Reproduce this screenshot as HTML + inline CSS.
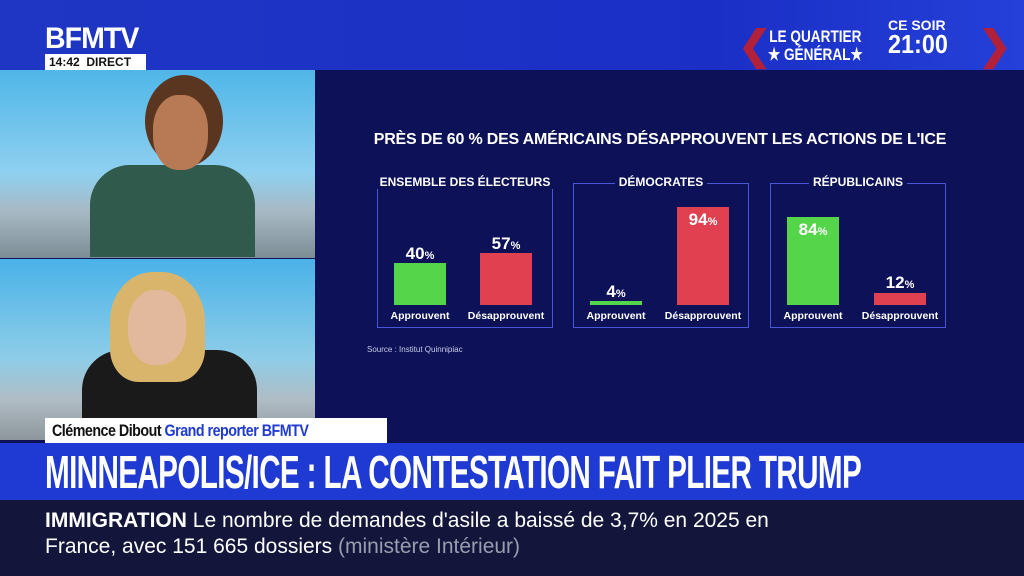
<!DOCTYPE html>
<html><head><meta charset="utf-8"><style>
*{margin:0;padding:0;box-sizing:border-box}
body{width:1024px;height:576px;overflow:hidden;position:relative;background:#0c1158;font-family:"Liberation Sans",sans-serif}
.a{position:absolute;white-space:nowrap}
.cond{font-weight:bold;transform-origin:left top}
.box{position:absolute;border:1.5px solid #4a56d8;top:183px;height:145px;width:176px}
.bt{position:absolute;top:-9px;left:-20px;right:-20px;text-align:center;color:#fff;font-weight:bold;font-size:12px;white-space:nowrap}
.bt span{background:#0c1158;padding:0 4px}
.bar{position:absolute;width:52px;bottom:22px}
.g{background:#55d64a}.r{background:#e0404f}
.v{position:absolute;width:52px;text-align:center;color:#fff;font-weight:bold;font-size:17px}
.v small{font-size:11px}
.lb{position:absolute;bottom:5px;color:#fff;font-weight:bold;font-size:10.5px;text-align:center;width:80px;white-space:nowrap}
</style></head><body>
<div class="a" style="left:0;top:0;width:1024px;height:70px;background:linear-gradient(90deg,#1f36c4,#1a2fc6 70%,#2440d8)"></div>
<div class="a cond" style="left:45px;top:24px;color:#fff;font-size:30px;letter-spacing:-1px;line-height:30px;transform:scaleX(0.95)">BFMTV</div>
<div class="a cond" style="left:45px;top:54px;width:101px;height:16px;background:#fff;color:#111;font-size:12px;line-height:16px;padding-left:4px">14:42 &nbsp;DIRECT</div>
<div class="a" style="left:738px;top:24px;color:#b2203a;font-size:40px;line-height:44px;font-weight:bold">❮</div>
<div class="a cond" style="left:768px;top:28px;color:#fff;font-size:17px;line-height:18px;text-align:center;transform:scaleX(0.8)">LE QUARTIER<br>★ GÉNÉRAL★</div>
<div class="a cond" style="left:888px;top:18px;color:#fff;font-size:14px;line-height:14px">CE SOIR</div>
<div class="a cond" style="left:888px;top:31px;color:#fff;font-size:26px;line-height:26px;transform:scaleX(0.9)">21:00</div>
<div class="a" style="left:978px;top:24px;color:#b2203a;font-size:40px;line-height:44px;font-weight:bold">❯</div>
<div class="a" style="left:0;top:70px;width:315px;height:188px;background:linear-gradient(180deg,#4fb6e8,#8fd0f0 55%,#a7b9c4 75%,#7d8d96)"></div>
<div class="a" style="left:90px;top:165px;width:165px;height:92px;background:#2f5a4c;border-radius:40px 40px 0 0"></div>
<div class="a" style="left:145px;top:75px;width:78px;height:92px;background:#5a3520;border-radius:50%"></div>
<div class="a" style="left:153px;top:95px;width:55px;height:75px;background:#b77a55;border-radius:45%"></div>
<div class="a" style="left:0;top:259px;width:315px;height:181px;background:linear-gradient(180deg,#4ab2e8,#8ecde8 55%,#b0bcc4 78%,#8c969c)"></div>
<div class="a" style="left:82px;top:350px;width:175px;height:90px;background:#1a1a1a;border-radius:40px 40px 0 0"></div>
<div class="a" style="left:110px;top:272px;width:95px;height:110px;background:#d9b56c;border-radius:45% 45% 30% 30%"></div>
<div class="a" style="left:128px;top:290px;width:58px;height:75px;background:#e3b99d;border-radius:45%"></div>
<div class="a" style="left:315px;top:70px;width:709px;height:373px;background:#0c1158"></div>
<div class="a" style="left:45px;top:418px;width:342px;height:25px;background:#fff;overflow:hidden"><div class="a cond" style="left:7px;top:0;font-size:17px;line-height:25px;letter-spacing:-0.6px;transform:scaleX(0.84)"><span style="color:#111">Clémence Dibout</span> <span style="color:#1f3bd0">Grand reporter BFMTV</span></div></div>
<div class="a" style="left:362px;top:131px;width:596px;text-align:center;color:#fff;font-weight:bold;font-size:16px;letter-spacing:-0.2px">PRÈS DE 60 % DES AMÉRICAINS DÉSAPPROUVENT LES ACTIONS DE L'ICE</div>
<div class="box" style="left:377px"><div class="bt"><span>ENSEMBLE DES ÉLECTEURS</span></div>
<div class="bar g" style="left:16px;height:42px"></div><div class="v" style="left:16px;top:60px">40<small>%</small></div>
<div class="bar r" style="left:102px;height:52px"></div><div class="v" style="left:102px;top:50px">57<small>%</small></div>
<div class="lb" style="left:2px">Approuvent</div><div class="lb" style="left:88px">Désapprouvent</div></div>
<div class="box" style="left:573px"><div class="bt"><span>DÉMOCRATES</span></div>
<div class="bar g" style="left:16px;height:4px"></div><div class="v" style="left:16px;top:98px">4<small>%</small></div>
<div class="bar r" style="left:103px;height:98px"></div><div class="v" style="left:103px;top:26px">94<small>%</small></div>
<div class="lb" style="left:2px">Approuvent</div><div class="lb" style="left:89px">Désapprouvent</div></div>
<div class="box" style="left:770px"><div class="bt"><span>RÉPUBLICAINS</span></div>
<div class="bar g" style="left:16px;height:88px"></div><div class="v" style="left:16px;top:36px">84<small>%</small></div>
<div class="bar r" style="left:103px;height:12px"></div><div class="v" style="left:103px;top:89px">12<small>%</small></div>
<div class="lb" style="left:2px">Approuvent</div><div class="lb" style="left:89px">Désapprouvent</div></div>
<div class="a" style="left:367px;top:345px;color:#c8cce8;font-size:8px">Source : Institut Quinnipiac</div>
<div class="a" style="left:0;top:443px;width:1024px;height:57px;background:#1f3ad2"></div>
<div class="a cond" style="left:45px;top:448px;color:#fff;font-size:46px;line-height:48px;letter-spacing:-1px;transform:scaleX(0.645)">MINNEAPOLIS/ICE : LA CONTESTATION FAIT PLIER TRUMP</div>
<div class="a" style="left:0;top:500px;width:1024px;height:76px;background:#13163a"></div>
<div class="a" style="left:45px;top:508px;color:#fff;font-size:21px;line-height:26px;letter-spacing:0px"><b>IMMIGRATION</b> Le nombre de demandes d'asile a baissé de 3,7% en 2025 en<br>France, avec 151 665 dossiers <span style="color:#9a9cb0">(ministère Intérieur)</span></div>
</body></html>
